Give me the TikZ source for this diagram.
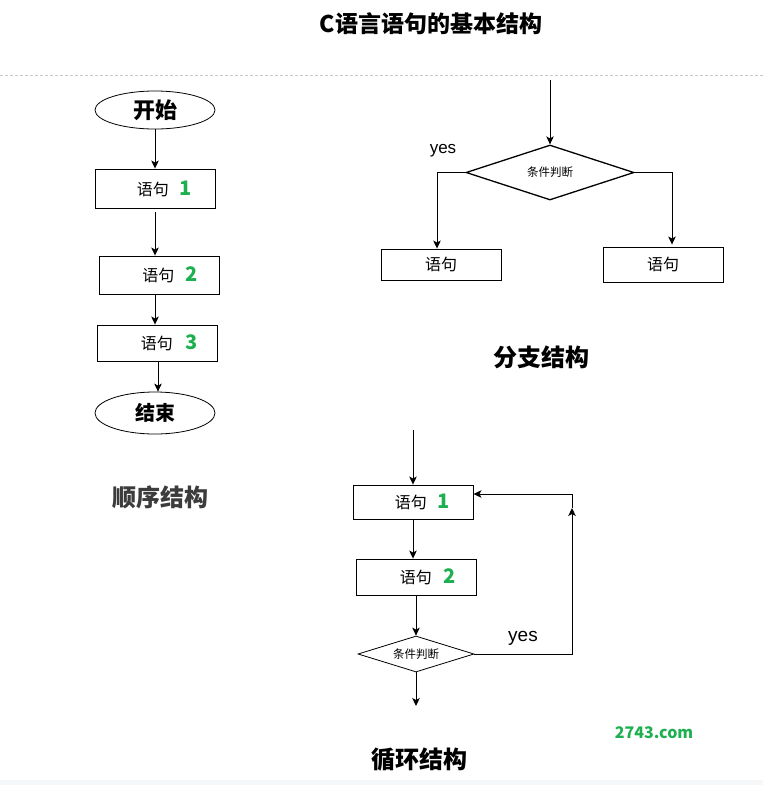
\documentclass[tikz,border=0pt]{standalone}
\usepackage{fontspec}
\setmainfont{Liberation Sans}
\newfontfamily\cjk{Noto Sans CJK SC}
\usetikzlibrary{shapes.geometric,arrows.meta}
\definecolor{numgreen}{RGB}{30,176,80}
\definecolor{dashgray}{RGB}{200,200,200}
\definecolor{bandgray}{RGB}{246,247,249}
\definecolor{labgray}{RGB}{60,60,60}
\tikzset{
  box/.style={draw, rectangle, line width=0.9pt, minimum width=120pt, inner sep=0pt, font=\cjk\fontsize{16}{16}\selectfont},
  oval/.style={draw, ellipse, line width=0.8pt, minimum width=120pt, inner sep=0pt},
  cond/.style={draw, diamond, inner sep=0pt, font=\cjk\fontsize{11.5}{12}\selectfont},
  arr/.style={-{Stealth[length=8pt,width=7.5pt,inset=2pt]}, line width=0.9pt},
  ttl/.style={font=\cjk\bfseries\fontsize{24}{24}\selectfont},
  yeslab/.style={font=\fontsize{17}{17}\selectfont}
}
\newcommand{\nm}[1]{\textcolor{numgreen}{\bfseries\fontsize{20}{20}\selectfont #1}}
\begin{document}
\begin{tikzpicture}[x=1pt,y=-1pt]
\useasboundingbox (0,0) rectangle (763,785);
\fill[bandgray] (0,780) rectangle (763,785);
% title
\node[font=\cjk\bfseries\fontsize{23}{23}\selectfont] (title) at (431,24) {C语言语句的基本结构};
\coordinate (dl) at (0,75);
\coordinate (dr) at (763,75);
\draw[dashgray, dash pattern=on 3pt off 2pt, line width=0.6pt] (dl) -- (dr);
% sequence
\node[oval, minimum height=38pt, font=\cjk\bfseries\fontsize{22}{22}\selectfont] (start) at (155,110) {开始};
\node[box, minimum height=39pt] (s1) at (155,188.5) {\hspace*{19pt}语句\hspace{11pt}\nm{1}};
\node[box, minimum height=38pt] (s2) at (159,275) {\hspace*{22pt}语句\hspace{11pt}\nm{2}};
\node[box, minimum height=36pt] (s3) at (157,343) {\hspace*{25pt}语句\hspace{13pt}\nm{3}};
\node[oval, minimum height=42pt, font=\cjk\bfseries\fontsize{20}{20}\selectfont] (end) at (155,413) {结束};
\draw[arr] (start.south) -- (s1.north);
\draw[arr, shorten <=4pt] (s1.south) -- (s1.south |- s2.north);
\draw[arr] ([xshift=-4pt]s2.south) -- ([xshift=-4pt]s2.south |- s3.north);
\draw[arr] ([xshift=1pt]s3.south) -- ([xshift=1pt]s3.south |- end.north);
\node[ttl, text=labgray] (seqlab) at (160,497) {顺序结构};
% branch
\coordinate (bin) at (550,80);
\node[cond, line width=1.3pt, aspect=3, minimum width=168pt, minimum height=55pt] (bd) at (550,172.5) {条件判断};
\node[box, minimum height=31pt] (bL) at (441,264.5) {语句};
\node[box, minimum height=35pt] (bR) at (663,264.5) {语句};
\draw[arr] (bin) -- (bd.north);
\draw[arr] (bd.west) -| ([xshift=-4pt]bL.north);
\draw[arr] (bd.east) -| ([xshift=9pt,yshift=2pt]bR.north);
\node[yeslab] (yes1) at (443,151) {yes};
\node[ttl] (brlab) at (541,357) {分支结构};
% loop
\coordinate (lin) at (413,430);
\node[box, minimum height=34pt] (l1) at (413,502) {\hspace*{19pt}语句\hspace{11pt}\nm{1}};
\node[box, minimum height=36pt] (l2) at (416,577) {\hspace*{24pt}语句\hspace{12pt}\nm{2}};
\node[cond, line width=0.8pt, aspect=3.2, minimum width=116pt, minimum height=36pt] (ld) at (416,654) {条件判断};
\coordinate (lout) at (416,706);
\coordinate (lup) at (572,508);
\draw[arr] (lin) -- (l1.north);
\draw[arr] (l1.south) -- (l1.south |- l2.north);
\draw[arr] (l2.south) -- (ld.north);
\draw[arr] (ld.south) -- (lout);
\draw[arr] (ld.east) -| (lup);
\draw[arr] (lup) |- ([yshift=8pt]l1.east);
\node[yeslab, font=\fontsize{19}{19}\selectfont] (yes2) at (523,638) {yes};
\node[ttl] (lplab) at (419,760) {循环结构};
\node[font=\cjk\bfseries\fontsize{16}{16}\selectfont, text=numgreen] (wm) at (654,733) {2743.com};
\end{tikzpicture}
\end{document}
